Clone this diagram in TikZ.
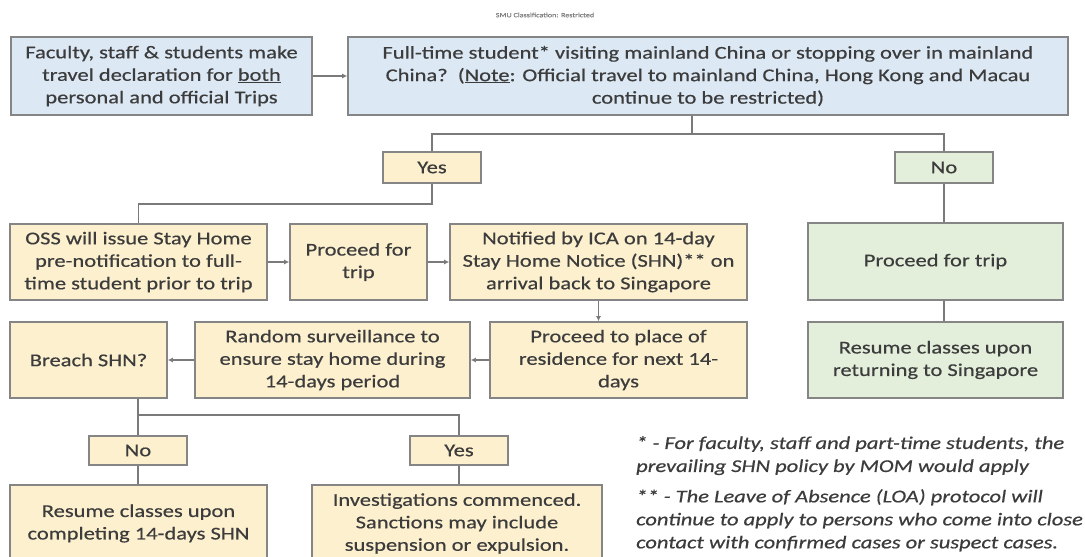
\documentclass[tikz,border=0pt]{standalone}
\usepackage{fontspec}
\setmainfont{Carlito}[FakeStretch=1.25, FakeBold=0.5]
\usetikzlibrary{arrows.meta}
\definecolor{bluefill}{HTML}{DCE8F4}
\definecolor{yelfill}{HTML}{FCF0CF}
\definecolor{grnfill}{HTML}{E3EFDA}
\definecolor{edgegray}{HTML}{858585}
\definecolor{txtgray}{HTML}{3C3C3C}
\definecolor{linegray}{HTML}{7A7A7A}
\tikzset{
  basebox/.style={draw=edgegray, line width=1.6pt, inner sep=0pt, align=center,
    text=txtgray, font=\fontsize{18}{22.5}\selectfont},
  bluebox/.style={basebox, fill=bluefill},
  yelbox/.style={basebox, fill=yelfill},
  grnbox/.style={basebox, fill=grnfill},
  conn/.style={draw=linegray, line width=1.5pt},
  arr/.style={conn, -{Latex[length=5pt,width=5pt]}},
  notetext/.style={inner sep=0pt, align=left, text=txtgray,
    font=\fontsize{18}{23}\selectfont\itshape},
}
\begin{document}
\begin{tikzpicture}[x=1pt,y=-1pt]
\useasboundingbox (0,0) rectangle (1085,557);
\clip (0,0) rectangle (1085,557);
\fill[white] (0,0) rectangle (1085,557);

\node[text=gray, font=\fontsize{6.5}{7}\selectfont] (hdr) at (545,15) {SMU Classification: Restricted};

% top row
\node[bluebox, minimum width=301, minimum height=78] (A) at (161.5,76)
  {Faculty, staff \& students make\\travel declaration for \underline{both}\\personal and official Trips};
\node[bluebox, minimum width=720, minimum height=78] (B) at (708,76)
  {Full-time student* visiting mainland China or stopping over in mainland\\China?\ \ (\underline{Note}: Official travel to mainland China, Hong Kong and Macau\\continue to be restricted)};

\node[yelbox, minimum width=98, minimum height=31] (Yes1) at (432,167.5) {Yes};
\node[grnbox, minimum width=98, minimum height=31] (No1) at (944,167.5) {No};

% left branch
\node[yelbox, minimum width=257, minimum height=76] (OSS) at (138.5,262)
  {OSS will issue Stay Home\\pre-notification to full-\\time student prior to trip};
\node[yelbox, minimum width=137, minimum height=76] (P1) at (358.5,262)
  {Proceed for\\trip};
\node[yelbox, minimum width=297, minimum height=76] (Notif) at (598.5,262)
  {Notified by ICA on 14-day\\Stay Home Notice (SHN)** on\\arrival back to Singapore};

\node[yelbox, minimum width=157, minimum height=76] (Breach) at (88.5,360)
  {Breach SHN?};
\node[yelbox, minimum width=275, minimum height=76] (Random) at (332.5,360)
  {Random surveillance to\\ensure stay home during\\14-days period};
\node[yelbox, minimum width=257, minimum height=76] (Place) at (618.5,360)
  {Proceed to place of\\residence for next 14-\\days};

% right branch
\node[grnbox, minimum width=255, minimum height=77] (GP) at (935.5,261.5)
  {Proceed for trip};
\node[grnbox, minimum width=255, minimum height=76] (GR) at (935.5,360)
  {Resume classes upon\\returning to Singapore};

% bottom
\node[yelbox, minimum width=98, minimum height=29] (No2) at (138,450.5) {No};
\node[yelbox, minimum width=98, minimum height=29] (Yes2) at (459,450.5) {Yes};
\node[yelbox, minimum width=257, minimum height=77] (Res2) at (138.5,523.5)
  {Resume classes upon\\completing 14-days SHN};
\node[yelbox, minimum width=290, minimum height=77] (Inv) at (457,523.5)
  {Investigations commenced.\\Sanctions may include\\suspension or expulsion.};

% notes
\node[notetext, anchor=north west] (n1) at (636,436)
  {* - For faculty, staff and part-time students, the\\prevailing SHN policy by MOM would apply};
\node[notetext, anchor=north west] (n2) at (636,489)
  {** - The Leave of Absence (LOA) protocol will\\continue to apply to persons who come into close\\contact with confirmed cases or suspect cases.};

% connectors
\draw[arr] (A) -- (B);
\coordinate (j1) at (692,134);
\draw[conn] (B.south -| j1) -- (j1);
\draw[conn] (Yes1.north) |- (j1) -| (No1.north);
\draw[conn] (Yes1.south) -- ++(0,20) -| (OSS.north);
\draw[arr] (OSS) -- (P1);
\draw[arr] (P1) -- (Notif);
\draw[arr] (Notif.south) -- (Notif.south |- Place.north);
\draw[arr] (Place) -- (Random);
\draw[arr] (Random) -- (Breach);
\draw[conn] (No1.south) -- (No1.south |- GP.north);
\draw[conn] (GP.south -| No1) -- (GR.north -| No1);

\coordinate (j3) at (138,415);
\draw[conn] (Breach.south -| No2) -- (No2.north);
\draw[conn] (j3) -| (Yes2.north);
\draw[conn] (No2.south) -- (No2.south |- Res2.north);
\draw[conn] (Yes2.south) -- (Yes2.south |- Inv.north);
\end{tikzpicture}
\end{document}
